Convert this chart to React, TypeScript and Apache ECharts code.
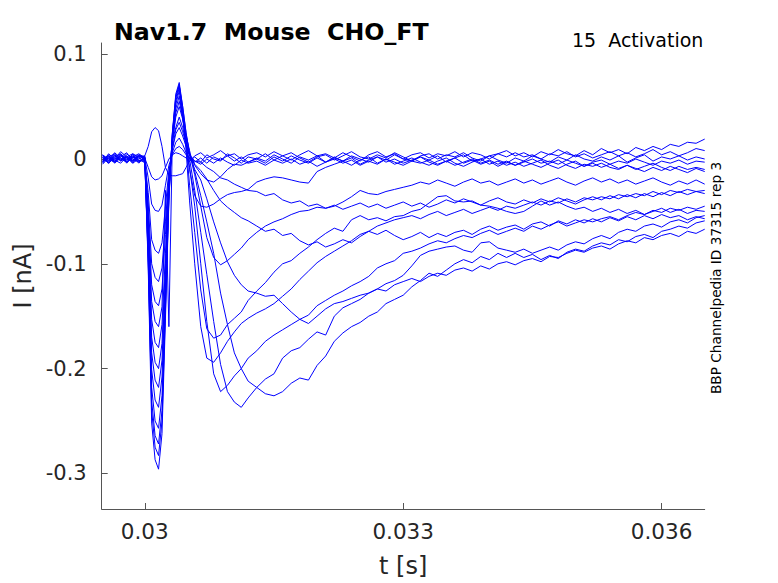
import React, { useEffect, useRef } from 'react';
import * as echarts from 'echarts';

// sample times [s]
const tSec = [
  0.02951, 0.02958, 0.02965, 0.02972, 0.02979, 0.02986, 0.02993, 0.03,
  0.03004, 0.03008, 0.03012, 0.03016, 0.0302, 0.03024, 0.03028, 0.03032, 0.03036, 0.0304, 0.03044, 0.03048, 0.03052,
  0.03058, 0.03065, 0.03072, 0.0308, 0.03088, 0.03096, 0.03104, 0.03112, 0.0312,
  0.0313, 0.0314, 0.0315, 0.0316, 0.0317, 0.0318, 0.0319, 0.032, 0.0321, 0.0322,
  0.0323, 0.0324, 0.0325, 0.0326, 0.0327, 0.0328, 0.0329, 0.033, 0.0331, 0.0332,
  0.0333, 0.0334, 0.0335, 0.0336, 0.0337, 0.0338, 0.0339, 0.034, 0.0341, 0.0342,
  0.0343, 0.0344, 0.0345, 0.0346, 0.0347, 0.0348, 0.0349, 0.035, 0.0351, 0.0352,
  0.0353, 0.0354, 0.0355, 0.0356, 0.0357, 0.0358, 0.0359, 0.036, 0.0361, 0.0362, 0.0363, 0.0364, 0.0365,
];

// currents [nA], one array per voltage step
const trace01 = [
  0.004, -0.002, 0.006, 0.001, -0.003, 0.005, 0.002, 0.003,
  0.012, 0.026, 0.03, 0.027, 0.012, -0.008, -0.015, -0.016, -0.016, -0.015, -0.014, -0.008, -0.002,
  0.003, 0.006, 0.001, 0.004, 0.008, 0.003, 0.005, 0.0, 0.004,
  0.006, 0.002, 0.007, 0.003, -0.001, 0.004, 0.008, 0.003, 0.005, 0.001,
  0.006, 0.002, -0.002, 0.004, 0.007, 0.002, 0.005, 0.0, 0.004, 0.006,
  0.001, 0.005, 0.003, 0.007, 0.002, 0.006, 0.004, 0.0, 0.005, 0.008,
  0.003, 0.006, 0.002, 0.007, 0.004, 0.009, 0.005, 0.003, 0.008, 0.004,
  0.01, 0.006, 0.009, 0.005, 0.011, 0.008, 0.012, 0.009, 0.014, 0.012, 0.016, 0.015, 0.019,
];
const trace02 = [
  -0.003, 0.005, 0.0, 0.007, 0.002, -0.004, 0.003, 0.001,
  -0.008, -0.017, -0.02, -0.019, -0.016, -0.008, 0.0, 0.004, 0.006, 0.005, 0.003, 0.001, -0.002,
  0.002, -0.003, 0.004, 0.0, -0.002, 0.005, 0.001, -0.004, 0.002,
  0.0, 0.005, -0.001, 0.003, 0.006, 0.001, -0.003, 0.002, 0.004, -0.001,
  0.003, 0.007, 0.002, 0.0, 0.004, 0.001, 0.006, 0.002, -0.002, 0.003,
  0.005, 0.0, 0.004, 0.002, 0.006, 0.001, -0.002, 0.003, 0.005, 0.002,
  0.006, 0.002, 0.004, 0.0, 0.005, 0.003, 0.007, 0.002, 0.005, 0.001,
  0.004, 0.007, 0.003, 0.006, 0.002, 0.005, 0.009, 0.004, 0.007, 0.003, 0.006, 0.01, 0.008,
];
const trace03 = [
  0.002, -0.004, 0.003, -0.001, 0.005, 0.0, -0.003, 0.001,
  -0.018, -0.043, -0.049, -0.05, -0.044, -0.025, -0.006, 0.004, 0.01, 0.012, 0.009, 0.004, 0.0,
  -0.003, 0.001, -0.004, 0.002, -0.001, 0.003, -0.002, 0.002, -0.003,
  0.001, -0.002, 0.004, 0.0, -0.004, 0.002, -0.001, 0.003, -0.003, 0.001,
  -0.002, 0.003, 0.0, -0.003, 0.002, -0.001, 0.004, 0.0, -0.002, 0.002,
  -0.001, 0.003, -0.003, 0.001, 0.004, -0.002, 0.0, 0.003, -0.001, -0.004,
  0.001, -0.002, 0.003, 0.0, -0.003, 0.002, -0.001, 0.004, 0.0, -0.002,
  0.002, -0.001, 0.003, -0.003, 0.001, 0.004, -0.002, 0.002, 0.0, 0.003, -0.001, 0.002, 0.0,
];
const trace04 = [
  -0.005, 0.001, -0.002, 0.004, -0.004, 0.002, -0.001, -0.003,
  -0.032, -0.077, -0.087, -0.09, -0.08, -0.045, -0.011, 0.006, 0.016, 0.02, 0.014, 0.006, 0.001,
  -0.002, -0.005, 0.0, -0.004, 0.001, -0.003, -0.006, -0.001, -0.004,
  -0.002, -0.006, -0.001, -0.004, 0.0, -0.005, -0.002, -0.007, -0.003, 0.0,
  -0.004, -0.001, -0.006, -0.002, -0.005, 0.0, -0.003, -0.006, -0.002, -0.004,
  -0.001, -0.005, -0.002, -0.006, -0.003, 0.0, -0.004, -0.001, -0.005, -0.002,
  -0.006, -0.003, 0.0, -0.004, -0.002, -0.005, -0.001, -0.004, -0.007, -0.003,
  -0.001, -0.005, -0.002, -0.004, 0.0, -0.003, -0.006, -0.002, -0.004, -0.001, -0.005, -0.002, -0.003,
];
const trace05 = [
  0.003, -0.002, 0.004, 0.0, -0.003, 0.002, 0.005, 0.001,
  -0.042, -0.1, -0.113, -0.117, -0.104, -0.06, -0.016, 0.009, 0.024, 0.03, 0.022, 0.012, 0.004,
  -0.002, -0.003, -0.008, -0.012, -0.018, -0.02, -0.024, -0.027, -0.03,
  -0.031, -0.035, -0.033, -0.039, -0.042, -0.04, -0.045, -0.043, -0.047, -0.044,
  -0.048, -0.045, -0.042, -0.046, -0.043, -0.047, -0.044, -0.041, -0.045, -0.042,
  -0.046, -0.043, -0.039, -0.042, -0.038, -0.041, -0.044, -0.04, -0.037, -0.041,
  -0.043, -0.039, -0.042, -0.038, -0.041, -0.037, -0.04, -0.043, -0.039, -0.036,
  -0.039, -0.035, -0.038, -0.034, -0.037, -0.033, -0.036, -0.032, -0.035, -0.031, -0.034, -0.031, -0.033,
];
const trace06 = [
  -0.001, 0.004, -0.003, 0.002, 0.006, -0.002, 0.001, -0.002,
  -0.05, -0.12, -0.136, -0.14, -0.124, -0.072, -0.02, 0.01, 0.028, 0.035, 0.026, 0.014, 0.004,
  -0.005, -0.011, -0.019, -0.03, -0.04, -0.046, -0.051, -0.056, -0.059,
  -0.064, -0.069, -0.067, -0.073, -0.071, -0.078, -0.082, -0.079, -0.084, -0.081,
  -0.077, -0.08, -0.074, -0.069, -0.072, -0.068, -0.073, -0.077, -0.074, -0.07,
  -0.075, -0.071, -0.074, -0.07, -0.068, -0.072, -0.067, -0.064, -0.068, -0.065,
  -0.063, -0.067, -0.062, -0.06, -0.064, -0.059, -0.062, -0.058, -0.061, -0.057,
  -0.06, -0.056, -0.059, -0.055, -0.058, -0.054, -0.057, -0.053, -0.056, -0.054, -0.058, -0.055, -0.057,
];
const trace07 = [
  0.002, -0.004, 0.001, -0.001, 0.003, -0.003, 0.004, 0.0,
  -0.056, -0.136, -0.155, -0.16, -0.141, -0.03, -0.16, 0.017, 0.03, 0.04, 0.03, 0.016, 0.004,
  -0.01, -0.02, -0.038, -0.06, -0.08, -0.098, -0.111, -0.12, -0.126,
  -0.128, -0.131, -0.13, -0.138, -0.146, -0.153, -0.157, -0.15, -0.143, -0.138,
  -0.136, -0.133, -0.13, -0.128, -0.124, -0.126, -0.12, -0.117, -0.114, -0.117,
  -0.112, -0.109, -0.111, -0.106, -0.104, -0.107, -0.102, -0.105, -0.1, -0.098,
  -0.101, -0.097, -0.095, -0.098, -0.093, -0.094, -0.09, -0.087, -0.089, -0.085,
  -0.083, -0.086, -0.081, -0.078, -0.08, -0.075, -0.077, -0.073, -0.071, -0.074, -0.069, -0.071, -0.067,
];
const trace08 = [
  -0.004, 0.002, -0.001, 0.005, 0.0, 0.003, -0.003, 0.002,
  -0.063, -0.153, -0.175, -0.18, -0.158, -0.09, -0.022, 0.015, 0.04, 0.05, 0.038, 0.022, 0.008,
  -0.012, -0.035, -0.06, -0.09, -0.128, -0.158, -0.185, -0.2, -0.212,
  -0.218, -0.224, -0.226, -0.222, -0.214, -0.209, -0.211, -0.197, -0.188, -0.174,
  -0.166, -0.16, -0.156, -0.15, -0.146, -0.138, -0.134, -0.13, -0.122, -0.116,
  -0.109, -0.112, -0.106, -0.1, -0.096, -0.099, -0.093, -0.096, -0.09, -0.094,
  -0.09, -0.094, -0.091, -0.096, -0.092, -0.095, -0.089, -0.086, -0.088, -0.083,
  -0.08, -0.082, -0.077, -0.079, -0.074, -0.072, -0.075, -0.069, -0.067, -0.064, -0.066, -0.061, -0.059,
];
const trace09 = [
  0.001, -0.003, 0.004, -0.002, 0.002, -0.004, 0.0, 0.003,
  -0.07, -0.17, -0.194, -0.2, -0.176, -0.1, -0.024, 0.016, 0.044, 0.055, 0.04, 0.02, 0.0,
  -0.03, -0.07, -0.11, -0.155, -0.196, -0.222, -0.232, -0.237, -0.228,
  -0.218, -0.21, -0.205, -0.19, -0.183, -0.18, -0.172, -0.165, -0.168, -0.15,
  -0.142, -0.138, -0.134, -0.128, -0.124, -0.119, -0.116, -0.111, -0.102, -0.092,
  -0.088, -0.086, -0.084, -0.083, -0.087, -0.089, -0.08, -0.079, -0.085, -0.087,
  -0.089, -0.086, -0.09, -0.087, -0.084, -0.087, -0.082, -0.079, -0.081, -0.076,
  -0.073, -0.076, -0.07, -0.067, -0.069, -0.064, -0.062, -0.065, -0.06, -0.058, -0.061, -0.056, -0.054,
];
const trace10 = [
  -0.002, 0.003, -0.004, 0.001, -0.001, 0.004, -0.002, 0.001,
  -0.076, -0.185, -0.211, -0.218, -0.192, -0.11, -0.03, 0.018, 0.048, 0.06, 0.04, 0.015, -0.008,
  -0.045, -0.1, -0.155, -0.205, -0.222, -0.216, -0.207, -0.2, -0.19,
  -0.183, -0.174, -0.168, -0.163, -0.158, -0.153, -0.149, -0.14, -0.135, -0.13,
  -0.126, -0.121, -0.117, -0.112, -0.104, -0.1, -0.097, -0.09, -0.088, -0.085,
  -0.081, -0.078, -0.08, -0.076, -0.073, -0.075, -0.071, -0.068, -0.072, -0.069,
  -0.066, -0.069, -0.064, -0.067, -0.063, -0.06, -0.064, -0.061, -0.058, -0.06,
  -0.057, -0.055, -0.058, -0.054, -0.051, -0.053, -0.049, -0.051, -0.047, -0.049, -0.046, -0.048, -0.045,
];
const trace11 = [
  0.003, 0.0, -0.003, 0.004, -0.001, 0.002, -0.004, 0.002,
  -0.083, -0.201, -0.23, -0.237, -0.208, -0.12, -0.03, 0.02, 0.052, 0.065, 0.04, 0.008, -0.04,
  -0.1, -0.16, -0.19, -0.194, -0.185, -0.174, -0.165, -0.157, -0.152,
  -0.147, -0.143, -0.138, -0.131, -0.124, -0.115, -0.107, -0.099, -0.093, -0.088,
  -0.083, -0.078, -0.072, -0.069, -0.064, -0.061, -0.058, -0.056, -0.054, -0.057,
  -0.053, -0.05, -0.054, -0.051, -0.048, -0.052, -0.049, -0.046, -0.049, -0.045,
  -0.047, -0.044, -0.041, -0.044, -0.04, -0.042, -0.038, -0.041, -0.037, -0.039,
  -0.036, -0.038, -0.034, -0.036, -0.033, -0.035, -0.031, -0.034, -0.03, -0.032, -0.029, -0.031, -0.03,
];
const trace12 = [
  -0.003, 0.002, 0.005, -0.002, 0.003, -0.001, 0.002, -0.004,
  -0.09, -0.218, -0.25, -0.257, -0.226, -0.13, -0.034, 0.022, 0.055, 0.068, 0.045, 0.015, -0.025,
  -0.07, -0.125, -0.162, -0.171, -0.168, -0.158, -0.152, -0.146, -0.135,
  -0.126, -0.118, -0.108, -0.1, -0.097, -0.09, -0.084, -0.077, -0.071, -0.066,
  -0.069, -0.058, -0.054, -0.058, -0.056, -0.059, -0.055, -0.054, -0.05, -0.048,
  -0.042, -0.036, -0.035, -0.04, -0.041, -0.04, -0.044, -0.045, -0.047, -0.05,
  -0.052, -0.05, -0.045, -0.04, -0.044, -0.041, -0.045, -0.048, -0.046, -0.05,
  -0.047, -0.051, -0.048, -0.052, -0.049, -0.053, -0.05, -0.047, -0.051, -0.048, -0.052, -0.049, -0.05,
];
const trace13 = [
  0.001, -0.004, 0.002, 0.005, -0.003, 0.001, 0.003, -0.001,
  -0.095, -0.231, -0.264, -0.272, -0.24, -0.14, -0.036, 0.023, 0.058, 0.07, 0.05, 0.025, 0.005,
  -0.015, -0.045, -0.075, -0.094, -0.101, -0.097, -0.091, -0.085, -0.077,
  -0.07, -0.064, -0.06, -0.057, -0.053, -0.05, -0.049, -0.046, -0.047, -0.045,
  -0.041, -0.036, -0.03, -0.033, -0.034, -0.031, -0.029, -0.027, -0.025, -0.022,
  -0.024, -0.02, -0.023, -0.026, -0.022, -0.019, -0.023, -0.021, -0.025, -0.022,
  -0.019, -0.023, -0.02, -0.024, -0.021, -0.018, -0.022, -0.025, -0.021, -0.018,
  -0.022, -0.019, -0.023, -0.02, -0.024, -0.021, -0.018, -0.022, -0.025, -0.021, -0.024, -0.02, -0.024,
];
const trace14 = [
  -0.002, 0.003, -0.001, -0.004, 0.002, 0.005, -0.002, 0.0,
  -0.099, -0.24, -0.275, -0.283, -0.25, -0.145, -0.038, 0.024, 0.06, 0.071, 0.045, 0.015, -0.01,
  -0.035, -0.045, -0.046, -0.043, -0.038, -0.034, -0.032, -0.031, -0.029,
  -0.022, -0.019, -0.017, -0.018, -0.02, -0.022, -0.023, -0.012, -0.008, -0.005,
  -0.002, -0.006, -0.001, 0.002, -0.004, 0.0, -0.005, -0.002, 0.001, -0.003,
  -0.006, -0.002, 0.001, -0.004, -0.007, -0.003, 0.0, -0.005, -0.002, -0.006,
  -0.003, -0.007, -0.004, -0.001, -0.006, -0.009, -0.005, -0.002, -0.007, -0.004,
  -0.008, -0.005, -0.009, -0.006, -0.01, -0.007, -0.004, -0.008, -0.011, -0.007, -0.01, -0.008, -0.01,
];
const trace15 = [
  0.004, 0.0, -0.003, 0.003, 0.001, -0.002, 0.004, 0.002,
  -0.104, -0.252, -0.287, -0.296, -0.262, -0.152, -0.04, 0.025, 0.062, 0.073, 0.05, 0.024, 0.005,
  -0.006, -0.014, -0.02, -0.022, -0.017, -0.01, -0.005, -0.006, -0.003,
  0.0, -0.004, 0.002, -0.002, 0.003, -0.001, -0.004, 0.001, -0.003, 0.002,
  -0.002, 0.001, -0.005, -0.001, 0.002, -0.003, 0.0, -0.004, -0.001, 0.002,
  -0.003, -0.006, -0.002, 0.001, -0.004, -0.001, -0.005, -0.002, -0.007, -0.003,
  -0.006, -0.002, -0.005, -0.008, -0.004, -0.001, -0.006, -0.009, -0.005, -0.007,
  -0.004, -0.008, -0.01, -0.006, -0.009, -0.012, -0.008, -0.011, -0.007, -0.01, -0.013, -0.009, -0.012,
];

const traces = [
  trace01, trace02, trace03, trace04, trace05, trace06, trace07, trace08,
  trace09, trace10, trace11, trace12, trace13, trace14, trace15,
];

const xTicks = [0.03, 0.033, 0.036];
const yTicks = [-0.3, -0.2, -0.1, 0, 0.1];

const FONT = '"DejaVu Sans", sans-serif';
const AXIS_COLOR = '#555555';
const TEXT_COLOR = '#262626';

const App = () => {
  const chartRef = useRef(null);

  useEffect(() => {
    const chart = echarts.init(chartRef.current, null, { renderer: 'svg' });

    const series = traces.map((vals) => ({
      type: 'line',
      data: tSec.map((t, i) => [t, vals[i]]).filter((p) => p[1] !== undefined),
      showSymbol: false,
      symbol: 'none',
      silent: true,
      clip: true,
      lineStyle: { color: '#0000ff', width: 1 },
      emphasis: { disabled: true },
    }));

    chart.setOption({
      animation: false,
      textStyle: { fontFamily: FONT },
      grid: { left: 101.7, top: 43, width: 603, height: 469, containLabel: false },
      xAxis: {
        type: 'value',
        min: 0.0295,
        max: 0.0365,
        name: 't [s]',
        nameLocation: 'middle',
        nameGap: 45,
        nameTextStyle: { fontSize: 24, color: TEXT_COLOR, fontFamily: FONT },
        axisLine: { show: true, onZero: false, lineStyle: { color: AXIS_COLOR, width: 1 } },
        axisTick: { show: true, inside: true, length: 6, customValues: xTicks, lineStyle: { color: AXIS_COLOR } },
        axisLabel: {
          customValues: xTicks,
          fontSize: 21.5,
          color: TEXT_COLOR,
          margin: 11,
          fontFamily: FONT,
          formatter: (v) => String(v),
        },
        splitLine: { show: false },
      },
      yAxis: {
        type: 'value',
        min: -0.334,
        max: 0.1107,
        name: 'I [nA]',
        nameLocation: 'middle',
        nameRotate: 90,
        nameGap: 58,
        nameTextStyle: { fontSize: 24, color: TEXT_COLOR, fontFamily: FONT },
        axisLine: { show: true, onZero: false, lineStyle: { color: AXIS_COLOR, width: 1 } },
        axisTick: { show: true, inside: true, length: 6, customValues: yTicks, lineStyle: { color: AXIS_COLOR } },
        axisLabel: {
          customValues: yTicks,
          fontSize: 21,
          color: TEXT_COLOR,
          margin: 15,
          fontFamily: FONT,
          formatter: (v) => String(Math.round(v * 10) / 10),
        },
        splitLine: { show: false },
      },
      graphic: [
        {
          type: 'text',
          left: 114,
          top: 20,
          style: { text: 'Nav1.7  Mouse  CHO_FT', font: `bold 23.7px ${FONT}`, fill: '#000000' },
        },
        {
          type: 'text',
          left: 572,
          top: 30,
          style: { text: '15  Activation', font: `19px ${FONT}`, fill: '#000000' },
        },
        {
          type: 'text',
          x: 716,
          y: 278,
          rotation: Math.PI / 2,
          style: {
            text: 'BBP Channelpedia ID 37315 rep 3',
            font: `13.7px ${FONT}`,
            fill: '#000000',
            align: 'center',
            verticalAlign: 'middle',
          },
        },
      ],
      series,
    });

    return () => {
      chart.dispose();
    };
  }, []);

  return (
    <div
      ref={chartRef}
      style={{ position: 'fixed', left: 0, top: 0, width: '778px', height: '583px', background: '#ffffff' }}
    />
  );
};

export default App;
